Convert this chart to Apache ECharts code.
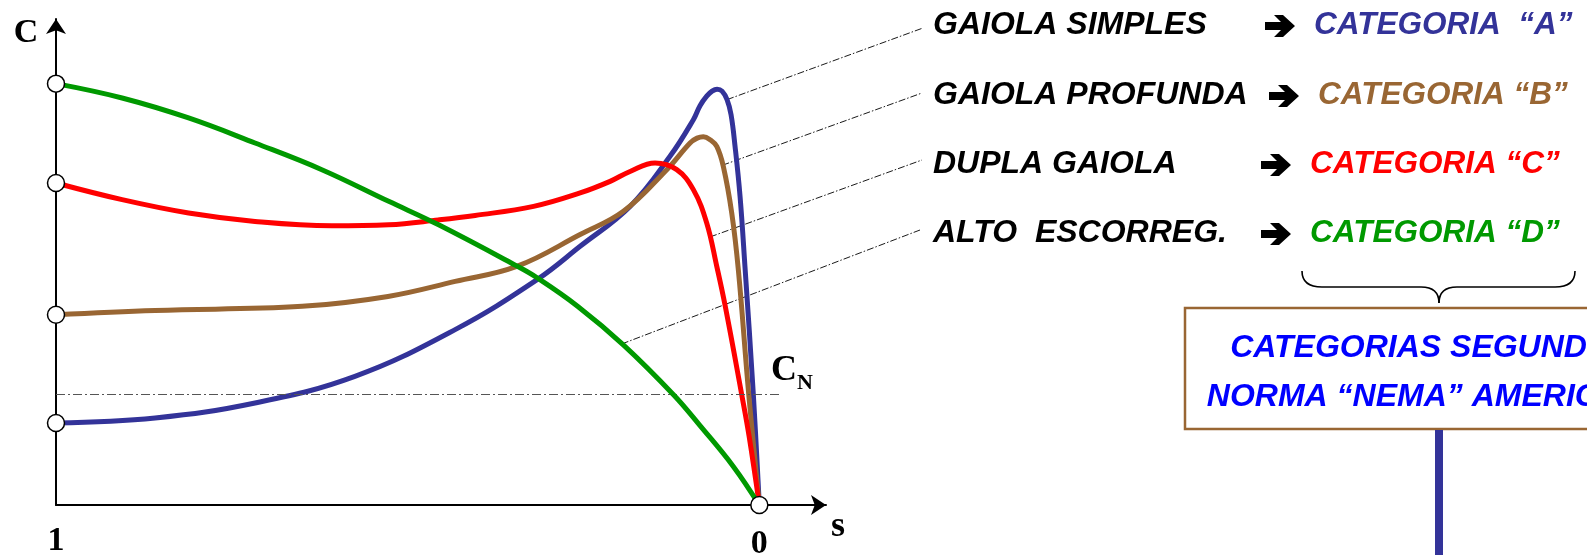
<!DOCTYPE html>
<html>
<head>
<meta charset="utf-8">
<script src="https://cdn.jsdelivr.net/npm/echarts@6/dist/echarts.min.js"></script>
<style>
  html, body { margin: 0; padding: 0; background: #fff; }
  #chart { width: 1587px; height: 555px; }
</style>
</head>
<body>
<div id="chart"></div>
<script>
// Torque–slip curves of squirrel-cage induction motors (torque in units of C_N, slip s from 1 to 0)
const sTicks = [1, 0];
const C_N = 1;

const catA = [[1, 0.743], [0.859, 0.789], [0.717, 0.925], [0.575, 1.166], [0.4325, 1.59], [0.316, 2.043],
  [0.2548, 2.345], [0.1838, 2.707], [0.127, 3.161], [0.0938, 3.493], [0.0843, 3.62], [0.0748, 3.706],
  [0.0672, 3.752], [0.0601, 3.77], [0.053, 3.752], [0.0459, 3.675], [0.0402, 3.539], [0.0345, 3.251],
  [0.0274, 2.798], [0.0203, 2.15], [0.0085, 1.0], [0, 0]];
const catB = [[1, 1.725], [0.859, 1.764], [0.65, 1.801], [0.528, 1.891], [0.4325, 2.027], [0.345, 2.163],
  [0.2548, 2.452], [0.1933, 2.662], [0.1316, 3.04], [0.0985, 3.282], [0.0885, 3.326], [0.0796, 3.339],
  [0.07, 3.312], [0.0605, 3.251], [0.0512, 3.07], [0.0392, 2.647], [0.0298, 2.13], [0.015, 1.0], [0, 0]];
const catC = [[1, 2.919], [0.906, 2.768], [0.8115, 2.647], [0.717, 2.571], [0.608, 2.532], [0.527, 2.541],
  [0.456, 2.585], [0.404, 2.625], [0.321, 2.707], [0.2548, 2.829], [0.2122, 2.934], [0.1838, 3.024],
  [0.1483, 3.101], [0.1174, 3.04], [0.0938, 2.859], [0.0748, 2.557], [0.0605, 2.163], [0.0487, 1.81],
  [0.025, 1.0], [0.0145, 0.622], [0, 0]];
const catD = [[1, 3.82], [0.906, 3.69], [0.8115, 3.509], [0.717, 3.282], [0.622, 3.04], [0.527, 2.753],
  [0.456, 2.54], [0.3458, 2.17], [0.316, 2.06], [0.258, 1.8], [0.193, 1.45], [0.122, 1.0],
  [0.0843, 0.72], [0.037, 0.35], [0, 0]];

const rotorTypes = ['GAIOLA SIMPLES', 'GAIOLA PROFUNDA', 'DUPLA GAIOLA', 'ALTO  ESCORREG.'];
const nemaCategories = ['CATEGORIA  “A”', 'CATEGORIA “B”', 'CATEGORIA “C”', 'CATEGORIA “D”'];
const colors = ['#333399', '#996633', '#FF0000', '#009900'];
// points on each curve where the dash-dot leader to its label starts
const leaderAnchors = [[0.0459, 3.675], [0.0525, 3.08], [0.0701, 2.43], [0.1956, 1.46]];

const curves = [catA, catB, catC, catD];

const chart = echarts.init(document.getElementById('chart'), null, { renderer: 'canvas' });

const serif = '"Liberation Serif", "Times New Roman", serif';
const sans = '"Liberation Sans", Arial, sans-serif';

const lineSeries = curves.map((data, i) => ({
  type: 'line',
  name: rotorTypes[i],
  data: data,
  smooth: 0.4,
  showSymbol: false,
  lineStyle: { color: colors[i], width: 5, cap: 'round', join: 'round' },
  z: 2 + i,
  silent: true,
  markLine: i === 0 ? {
    silent: true,
    symbol: 'none',
    label: { show: false },
    lineStyle: { color: '#555', width: 1, type: [9, 3, 2, 3] },
    data: [[{ coord: [1, C_N] }, { coord: [-0.0294, C_N] }]]
  } : undefined
}));

const startPoints = curves.map(c => c[0]).concat([[0, 0]]);

chart.setOption({
  animation: false,
  backgroundColor: '#fff',
  grid: { left: 56, top: 19, width: 770, height: 486, outerBoundsMode: 'none', containLabel: false },
  xAxis: {
    type: 'value',
    inverse: true,
    min: -0.0948,
    max: 1,
    splitLine: { show: false },
    axisTick: { show: false },
    axisLine: { show: true, onZero: false, lineStyle: { color: '#000', width: 2 }, symbol: ['none', 'arrow'], symbolSize: [15, 15] },
    axisLabel: {
      customValues: sTicks,
      margin: 14,
      formatter: v => (v === 1 ? '{a|1}' : '{b|0}'),
      rich: {
        a: { fontFamily: serif, fontWeight: 'bold', fontSize: 34, color: '#000', padding: [5, 0, 0, 0] },
        b: { fontFamily: serif, fontWeight: 'bold', fontSize: 34, color: '#000', padding: [8, 0, 0, 0] }
      }
    }
  },
  yAxis: {
    type: 'value',
    min: 0,
    max: 4.406,
    splitLine: { show: false },
    axisTick: { show: false },
    axisLabel: { show: false },
    axisLine: { show: true, onZero: false, lineStyle: { color: '#000', width: 2 }, symbol: ['none', 'arrow'], symbolSize: [15, 15] }
  },
  series: lineSeries.concat([{
    type: 'scatter',
    data: startPoints,
    symbol: 'circle',
    symbolSize: 17,
    itemStyle: { color: '#fff', borderColor: '#000', borderWidth: 1.5, opacity: 1 },
    z: 10,
    silent: true
  }])
});

// annotations placed from data coordinates
const px = p => chart.convertToPixel({ gridIndex: 0 }, p);
const rowY = [25, 95, 164, 233];
const leaderEnds = [[923, 28], [922, 93], [922, 160], [920, 230]];
const arrowX = [1280, 1284, 1276, 1276];
const catX = [1314, 1318, 1310, 1310];

// bold wide-headed arrow centred on (cx, cy)
const arrowShape = (cx, cy) => [[-15, -4], [1, -4], [-6, -11], [3, -11], [15, 0], [3, 11], [-6, 11], [1, 4], [-15, 4]]
  .map(p => [cx + p[0], cy + p[1]]);

const g = [];
leaderAnchors.forEach((a, i) => {
  const p = px(a);
  g.push({
    type: 'line', silent: true, z: 1,
    shape: { x1: p[0], y1: p[1], x2: leaderEnds[i][0], y2: leaderEnds[i][1] },
    style: { stroke: '#000', lineWidth: 0.9, lineDash: [7, 2, 1.5, 2] }
  });
  g.push({
    type: 'text', silent: true,
    style: { x: 933, y: rowY[i], text: rotorTypes[i], font: 'italic bold 32px ' + sans, fill: '#000', verticalAlign: 'middle', textVerticalAlign: 'middle' }
  });
  g.push({
    type: 'polygon', silent: true,
    shape: { points: arrowShape(arrowX[i], rowY[i] + 1) },
    style: { fill: '#000' }
  });
  g.push({
    type: 'text', silent: true,
    style: { x: catX[i], y: rowY[i], text: nemaCategories[i], font: 'italic bold 31.5px ' + sans, fill: colors[i], verticalAlign: 'middle', textVerticalAlign: 'middle' }
  });
});

// C_N label beside the nominal torque line
const cn = px([-0.0294, C_N]);
g.push({
  type: 'text', silent: true,
  style: {
    x: cn[0] - 9, y: cn[1] - 42,
    text: '{c|C}{n|N}',
    rich: {
      c: { fontFamily: serif, fontWeight: 'bold', fontSize: 36, color: '#000', verticalAlign: 'bottom' },
      n: { fontFamily: serif, fontWeight: 'bold', fontSize: 22, color: '#000', verticalAlign: 'bottom', padding: [0, 0, -6, 0] }
    }
  }
});

// axis titles
g.push({ type: 'text', silent: true, style: { x: 26, y: 33, text: 'C', font: 'bold 34px ' + serif, fill: '#000', align: 'center', textAlign: 'center', verticalAlign: 'middle', textVerticalAlign: 'middle' } });
g.push({ type: 'text', silent: true, style: { x: 838, y: 527, text: 's', font: 'bold 36px ' + serif, fill: '#000', align: 'center', textAlign: 'center', verticalAlign: 'middle', textVerticalAlign: 'middle' } });

// brace grouping the categories
const braceStyle = { stroke: '#000', lineWidth: 1.6, fill: null };
g.push({ type: 'bezierCurve', silent: true, shape: { x1: 1302, y1: 271, x2: 1322, y2: 287, cpx1: 1302, cpy1: 287 }, style: braceStyle });
g.push({ type: 'line', silent: true, shape: { x1: 1322, y1: 287, x2: 1421, y2: 287 }, style: braceStyle });
g.push({ type: 'bezierCurve', silent: true, shape: { x1: 1421, y1: 287, x2: 1439, y2: 303, cpx1: 1439, cpy1: 287 }, style: braceStyle });
g.push({ type: 'bezierCurve', silent: true, shape: { x1: 1439, y1: 303, x2: 1457, y2: 287, cpx1: 1439, cpy1: 287 }, style: braceStyle });
g.push({ type: 'line', silent: true, shape: { x1: 1457, y1: 287, x2: 1555, y2: 287 }, style: braceStyle });
g.push({ type: 'bezierCurve', silent: true, shape: { x1: 1555, y1: 287, x2: 1575, y2: 271, cpx1: 1575, cpy1: 287 }, style: braceStyle });

// NEMA box and connector bar
g.push({
  type: 'rect', silent: true,
  shape: { x: 1185, y: 308, width: 520, height: 121 },
  style: { fill: '#fff', stroke: '#996633', lineWidth: 2.5 }
});
g.push({ type: 'text', silent: true, style: { x: 1437, y: 348, text: 'CATEGORIAS SEGUNDO A', font: 'italic bold 32px ' + sans, fill: '#0000FF', align: 'center', textAlign: 'center', verticalAlign: 'middle', textVerticalAlign: 'middle' } });
g.push({ type: 'text', silent: true, style: { x: 1437, y: 397, text: 'NORMA “NEMA” AMERICANA', font: 'italic bold 32px ' + sans, fill: '#0000FF', align: 'center', textAlign: 'center', verticalAlign: 'middle', textVerticalAlign: 'middle' } });
g.push({ type: 'rect', silent: true, shape: { x: 1435, y: 430, width: 8, height: 130 }, style: { fill: '#333399' } });

chart.setOption({ graphic: g });
</script>
</body>
</html>
